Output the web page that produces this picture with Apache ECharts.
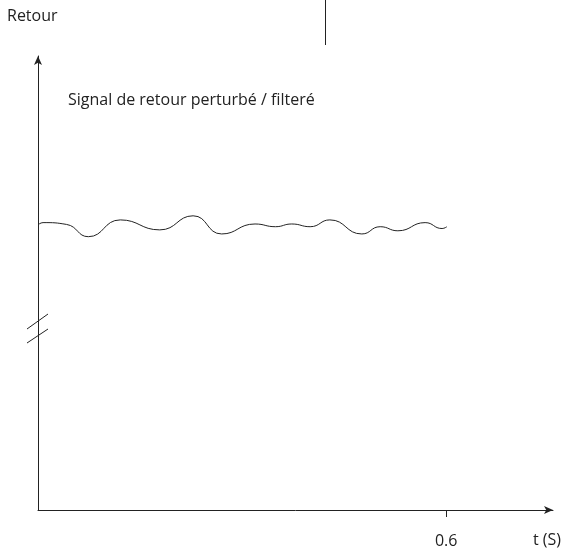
<!DOCTYPE html>
<html>
<head>
<meta charset="utf-8">
<script src="https://cdn.jsdelivr.net/npm/echarts@6/dist/echarts.min.js"></script>
<style>
  html, body { margin: 0; padding: 0; background: #fff; }
  #chart { width: 564px; height: 549px; }
</style>
</head>
<body>
<div id="chart"></div>
<script>
// temps (s) et niveau du signal de retour (unités arbitraires)
var times = [0, 0.0074, 0.042, 0.074, 0.121, 0.179, 0.228, 0.270, 0.319, 0.349,
             0.373, 0.400, 0.429, 0.476, 0.503, 0.529, 0.569, 0.594, 0.601];
var signal = [62.8, 63.3, 62.9, 60.2, 63.9, 61.7, 64.8, 60.8, 63.0, 62.4,
              63.0, 62.4, 63.9, 60.8, 62.4, 61.5, 63.3, 62.0, 62.4];
var xTicks = [0.6];

var font = '"Open Sans", sans-serif';
var ink = '#222';

var chart = echarts.init(document.getElementById('chart'));

var option = {
  animation: false,
  grid: { left: 38, right: 11, top: 56, bottom: 39 },
  xAxis: {
    type: 'value',
    min: 0,
    max: 0.757,
    axisLine: { show: true, symbol: ['none', 'arrow'], symbolSize: [6, 9], lineStyle: { color: ink, width: 1 } },
    axisTick: { show: true, customValues: xTicks, length: 7, lineStyle: { color: ink } },
    axisLabel: { show: true, customValues: xTicks, margin: 23, color: ink, fontSize: 16, fontFamily: font },
    splitLine: { show: false }
  },
  yAxis: {
    type: 'value',
    min: 0,
    max: 100,
    axisLine: { show: true, symbol: ['none', 'arrow'], symbolSize: [6, 9], lineStyle: { color: ink, width: 1 } },
    axisTick: { show: false },
    axisLabel: { show: false },
    splitLine: { show: false }
  },
  series: [
    {
      type: 'line',
      data: times.map(function (t, i) { return [t, signal[i]]; }),
      smooth: 0.5,
      showSymbol: false,
      lineStyle: { color: ink, width: 1 }
    }
  ],
  graphic: [
    { type: 'text', left: 7, top: 8, style: { text: 'Retour', fill: ink, font: '16px ' + font } },
    { type: 'text', left: 68, top: 92, style: { text: 'Signal de retour perturbé / filteré', fill: ink, font: '16px ' + font } },
    { type: 'text', left: 533, top: 532, style: { text: 't (S)', fill: ink, font: '16px ' + font } },
    // trait vertical en haut
    { type: 'line', shape: { x1: 325.5, y1: 0, x2: 325.5, y2: 45 }, style: { stroke: ink, lineWidth: 1 } },
    // coupure de l'axe Y
    { type: 'line', shape: { x1: 27, y1: 329, x2: 48, y2: 314 }, style: { stroke: ink, lineWidth: 1 } },
    { type: 'line', shape: { x1: 27, y1: 343, x2: 48, y2: 329 }, style: { stroke: ink, lineWidth: 1 } }
  ]
};

chart.setOption(option);
</script>
</body>
</html>
